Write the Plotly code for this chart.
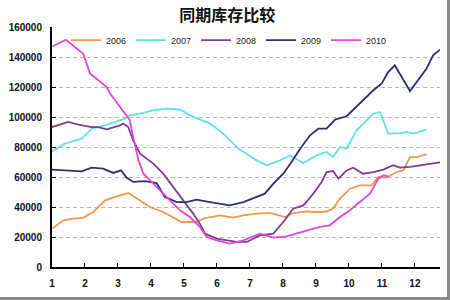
import plotly.graph_objects as go

# ---- data (month position, stock) ----
x2006 = [1.01, 1.34, 1.65, 1.95, 2.25, 2.61, 2.96, 3.31, 3.57, 3.97, 4.37, 4.78, 4.93, 5.38, 5.58, 6.09, 6.49, 6.80,
         7.20, 7.61, 7.91, 8.06, 8.31, 8.72, 9.02, 9.32, 9.52, 9.73, 10.03, 10.33, 10.69, 10.89, 11.14, 11.45,
         11.65, 11.85, 12.05, 12.35]
y2006 = [25600, 31100, 32200, 32900, 36700, 44400, 47100, 49300, 45600, 40000, 36700, 32200, 30000, 30000, 32200,
         34400, 32900, 34400, 35600, 36000, 34400, 33300, 36000, 37100, 36500, 37000, 39000, 45600, 52200, 54400,
         54400, 60000, 59600, 63300, 64400, 73300, 73300, 75100]

x2007 = [1.0, 1.39, 1.90, 2.20, 2.61, 2.91, 3.21, 3.36, 3.77, 4.07, 4.48, 4.88, 5.18, 5.79, 6.19, 6.65, 7.20, 7.51,
         7.91, 8.21, 8.62, 9.02, 9.32, 9.52, 9.73, 9.93, 10.23, 10.54, 10.74, 10.94, 11.19, 11.55, 11.75, 11.95,
         12.25, 12.35]
y2007 = [77000, 82200, 85600, 92200, 94400, 96700, 98900, 101100, 102700, 104400, 105600, 105000, 101100, 95600,
         88900, 78900, 71100, 67800, 71100, 74400, 69300, 74400, 76700, 73300, 80000, 78900, 91100, 97800, 102200,
         103300, 88900, 89300, 90000, 88900, 90700, 91600]

x2008 = [1.0, 1.49, 1.80, 2.20, 2.40, 2.66, 3.06, 3.16, 3.31, 3.46, 3.67, 3.87, 4.07, 4.37, 4.68, 4.98, 5.28, 5.48,
         5.64, 5.99, 6.60, 6.90, 7.30, 7.71, 8.01, 8.31, 8.62, 8.92, 9.17, 9.32, 9.52, 9.68, 9.93, 10.13, 10.43,
         10.74, 11.04, 11.34, 11.55, 11.85, 12.15, 12.45, 12.76]
y2008 = [93300, 96700, 94900, 93300, 93300, 91800, 94400, 95600, 93300, 84400, 75600, 72200, 68900, 62200, 53300,
         44400, 35600, 28900, 22200, 18900, 16700, 16700, 21100, 22200, 30000, 38900, 41100, 48900, 56700, 63300,
         64000, 58900, 64400, 66200, 62200, 63300, 64900, 67800, 66200, 66700, 67800, 68900, 69800]

x2009 = [1.0, 1.49, 1.90, 2.20, 2.55, 2.86, 3.09, 3.26, 3.46, 3.82, 4.17, 4.42, 4.78, 5.08, 5.38, 5.79, 6.39, 6.80,
         7.20, 7.45, 7.71, 8.01, 8.26, 8.52, 8.82, 9.07, 9.32, 9.58, 9.93, 10.33, 10.74, 10.99, 11.19, 11.39,
         11.85, 12.35, 12.55, 12.76]
y2009 = [64900, 64400, 63800, 66200, 65600, 62700, 64400, 59600, 56700, 57300, 56000, 46700, 43300, 43300, 44900,
         43300, 41100, 43300, 46700, 48900, 55600, 62200, 70000, 78900, 87800, 92200, 92200, 98300, 100500, 109000,
         117800, 122200, 130000, 134500, 117300, 132200, 141100, 144900]

x2010 = [1.01, 1.42, 1.95, 2.15, 2.66, 2.76, 3.21, 3.36, 3.46, 3.62, 3.77, 3.97, 4.27, 4.58, 4.88, 5.18, 5.48, 5.69,
         5.99, 6.39, 6.80, 7.30, 7.71, 8.11, 8.52, 8.82, 9.12, 9.42, 9.73, 10.03, 10.33, 10.64, 10.89, 11.04, 11.19]
y2010 = [147000, 151500, 142200, 129000, 120000, 115600, 102300, 97800, 86700, 71100, 62200, 57800, 51100, 44400,
         37800, 33300, 26700, 20000, 17800, 15600, 17800, 22200, 19600, 20400, 23300, 24900, 26700, 27800, 33300,
         37800, 43300, 48900, 58900, 61100, 60400]

series_names = ["2006", "2007", "2008", "2009", "2010"]
series_colors = ["#EE9A4D", "#5FE3E3", "#7E3F8E", "#2E2F72", "#E046D8"]
series_x = [x2006, x2007, x2008, x2009, x2010]
series_y = [y2006, y2007, y2008, y2009, y2010]

month_ticks = list(range(1, 13))
y_ticks = [0, 20000, 40000, 60000, 80000, 100000, 120000, 140000, 160000]
title_text = "同期库存比较"

fig = go.Figure()
for name, col, xs, ys in zip(series_names, series_colors, series_x, series_y):
    fig.add_trace(go.Scatter(x=xs, y=ys, mode="lines", name=name,
                             line=dict(color=col, width=1.8)))

tickfont = dict(family="Liberation Sans, Arial", size=10, color="#111111", weight="bold")

fig.update_layout(
    width=450, height=300,
    margin=dict(l=52, r=10, t=27, b=33),
    paper_bgcolor="white", plot_bgcolor="white",
    title=dict(text="<b>" + title_text + "</b>", x=0.505, xanchor="center", y=0.95, yanchor="middle",
               font=dict(family="Noto Sans CJK SC", size=16, color="#111111")),
    legend=dict(orientation="h", x=0.455, xanchor="center", y=0.945, yanchor="middle",
                font=dict(family="Liberation Sans, Arial", size=9, color="#222222"),
                bgcolor="rgba(0,0,0,0)", itemwidth=30, tracegroupgap=0,
                entrywidth=20, entrywidthmode="pixels"),
    showlegend=True,
)
fig.update_xaxes(range=[1, 12.76], tickvals=month_ticks, ticktext=[str(m) for m in month_ticks],
                 showgrid=False, zeroline=False, showline=True, linecolor="black", linewidth=2,
                 ticks="inside", ticklen=4, tickcolor="black", tickfont=tickfont, ticklabelstandoff=6)
fig.update_yaxes(range=[0, 160000], tickvals=y_ticks, ticktext=[str(v) for v in y_ticks],
                 showgrid=True, gridcolor="#b8b8b8", gridwidth=1, griddash="4px,3px",
                 zeroline=False, showline=True, linecolor="black", linewidth=2,
                 ticks="inside", ticklen=4, tickcolor="black", tickfont=tickfont, ticklabelstandoff=6)

# gray frame edges (right and bottom)
fig.add_shape(type="line", xref="paper", yref="paper", x0=(448.5 - 52) / 388, x1=(448.5 - 52) / 388,
              y0=267 / 240, y1=-33 / 240, line=dict(color="#8a8a8a", width=3))
fig.add_shape(type="line", xref="paper", yref="paper", x0=-52 / 388, x1=398 / 388,
              y0=-31.5 / 240, y1=-31.5 / 240, line=dict(color="#8a8a8a", width=3))

fig.write_html("out.html")
